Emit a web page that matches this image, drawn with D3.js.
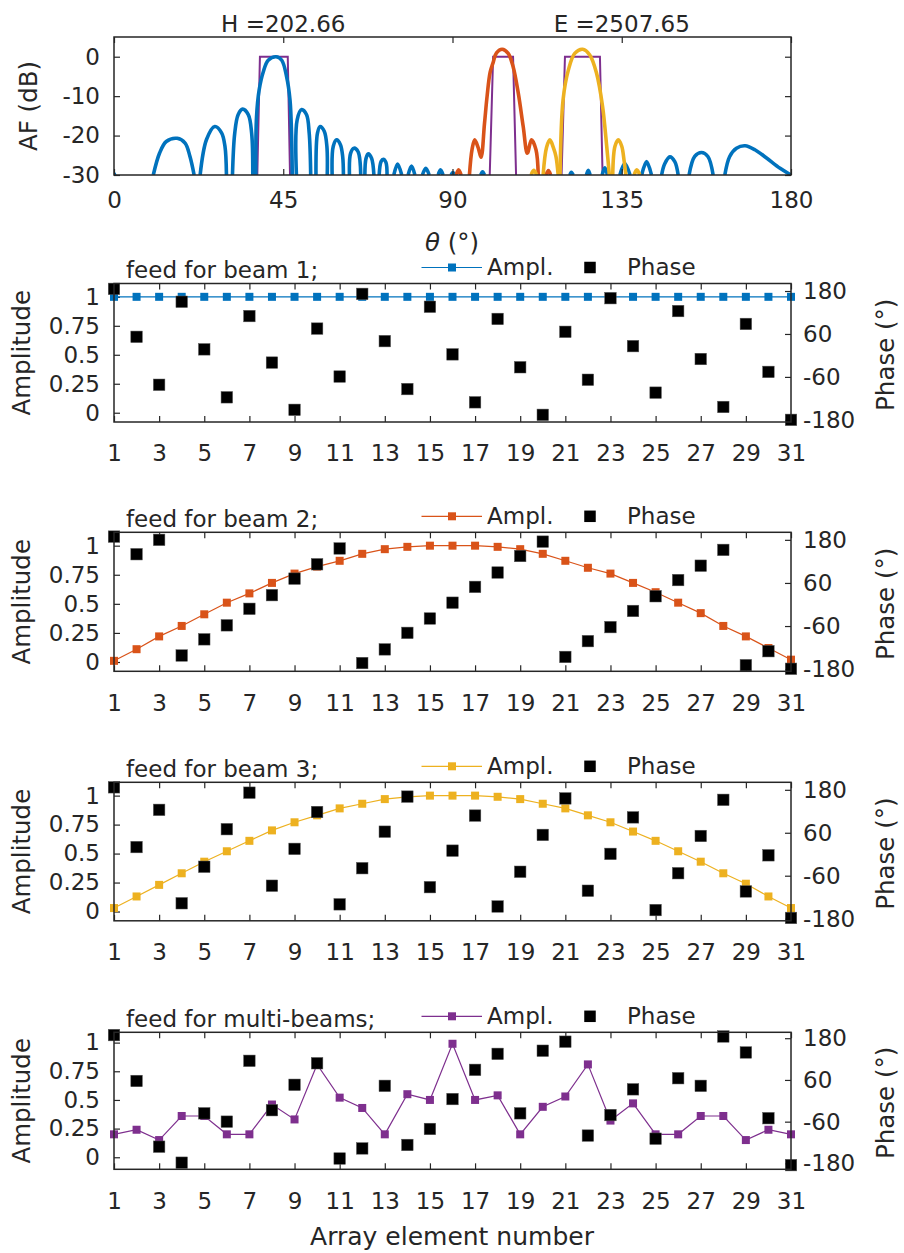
<!DOCTYPE html>
<html><head><meta charset="utf-8">
<script src="https://cdn.jsdelivr.net/npm/d3@7"></script>
<style>
body{margin:0;background:#fff;}
text{font-family:"DejaVu Sans",sans-serif;fill:#262626;}
</style>
</head><body>
<svg id="c" width="904" height="1253"></svg>
<script>
// ---------------- DATA ----------------
const thetaTicks = [0, 45, 90, 135, 180];
const afTicks = [-30, -20, -10, 0];
const titleH = "H =202.66";
const titleE = "E =2507.65";

// Array factor lobes, [theta(deg), AF(dB)]
const beam1Lobes = [
  [[0,-29.5],[0.5,-31]],
  [[10.45,-30],[12.1,-24.5],[13.9,-21.5],[16.8,-20.7],[18.9,-21.9],[20.2,-25.3],[21.3,-30]],
  [[22.9,-30],[24.6,-21],[26.8,-17.7],[28.6,-19.3],[29.5,-22.7],[29.9,-30]],
  [[31.5,-30],[32.1,-19.4],[33.0,-14.7],[34.2,-13.3],[35.7,-14.7],[36.6,-19.4],[36.9,-30]],
  [[37.7,-30],[37.9,-15.2],[38.6,-8.4],[39.7,-3.8],[41.0,-0.9],[43.1,0],[44.6,-0.9],[45.9,-5.1],[46.8,-11],[47.2,-19.4],[47.4,-30]],
  [[48.5,-30],[48.7,-16],[49.9,-13.4],[51.2,-14.7],[51.9,-19.4],[52.3,-30]],
  [[53.7,-30],[54.1,-19.4],[54.8,-17.7],[55.9,-18.9],[56.6,-22.7],[56.7,-30]],
  [[58.0,-30],[58.3,-22.7],[59.2,-21.1],[60.2,-22.3],[60.8,-25.3],[61.0,-30]],
  [[62.6,-30],[62.9,-24.5],[63.8,-23.2],[64.9,-24.1],[65.6,-30]],
  [[66.7,-30],[67.0,-25.8],[67.6,-24.6],[68.5,-25.8],[69.1,-30]],
  [[70.5,-30],[71.0,-26.6],[71.6,-26],[72.3,-26.8],[72.6,-30]],
  [[74.4,-30],[75.4,-27.2],[76.5,-30]],
  [[78.2,-30],[79.1,-27.7],[80.0,-30]],
  [[82.0,-30],[82.9,-28.3],[83.8,-30]],
  [[86.2,-30],[86.8,-28.7],[87.5,-30]],
  [[89.6,-30],[90.1,-29.4],[90.6,-30]],
  [[97.5,-30],[98.0,-29.2],[98.5,-30]],
  [[121.2,-30],[121.6,-29.3],[122.1,-30]],
  [[125.6,-30],[126.1,-28.8],[126.6,-30]],
  [[129.8,-30],[130.5,-28.2],[131.2,-30]],
  [[134.5,-30],[135.8,-27.1],[137.2,-30]],
  [[140.3,-30],[141.6,-26.6],[142.9,-30]],
  [[145.6,-30],[146.4,-27.2],[147.8,-25.4],[149.1,-26.6],[150.0,-30]],
  [[152.9,-30],[154.4,-25.3],[156.2,-24.3],[157.9,-25.3],[159.3,-30]],
  [[162.4,-30],[163.7,-25.3],[165.5,-23.2],[167.8,-22.6],[170.4,-23.6],[173.5,-25.7],[177.1,-28.3],[180,-30]]
];
const beam2Lobes = [
  [[91.0,-30],[91.6,-28.7],[92.3,-30]],
  [[94.5,-30],[95.2,-23.5],[95.9,-21.1],[96.8,-23],[97.6,-25.5],[98.5,-17],[99.2,-10],[100.0,-4],[100.8,-1.5],[101.7,1.0],[103.2,1.9],[104.8,0.85],[106.1,-2.5],[107.5,-9.3],[108.8,-17.7],[109.9,-24.5],[111.0,-21.1],[112.2,-23.6],[112.8,-30]],
  [[114.9,-30],[115.5,-28.9],[116.1,-30]]
];
const beam3Lobes = [
  [[110.9,-30],[111.6,-28.8],[112.4,-30]],
  [[114.1,-30],[115.0,-23],[115.9,-21.1],[116.8,-23],[117.5,-25.3],[118.1,-30]],
  [[118.6,-30],[119.4,-10.9],[120.8,-3.4],[122.5,0.85],[124.6,1.9],[126.5,0.45],[128.3,-4.2],[129.9,-12.6],[131.0,-22.7],[131.7,-30]],
  [[132.6,-30],[133.2,-22.7],[134.1,-21.1],[135.0,-22.7],[135.6,-26.2],[136.1,-30]],
  [[138.3,-30],[139.0,-28.7],[139.8,-30]]
];
// desired-pattern masks
const masks = [
  [[38.1,-30],[38.8,0],[46.2,0],[46.8,-30]],
  [[99.9,-30],[100.8,0],[106.1,0],[106.9,-30]],
  [[119.0,-30],[119.9,0],[129.2,0],[129.9,-30]]
];

const elementNumbers = [1,2,3,4,5,6,7,8,9,10,11,12,13,14,15,16,17,18,19,20,21,22,23,24,25,26,27,28,29,30,31];
const elementTicks = [1,3,5,7,9,11,13,15,17,19,21,23,25,27,29,31];
const ampTicks = [0, 0.25, 0.5, 0.75, 1];
const phaseTicks = [-180, -60, 60, 180];

const panelTitles = ["feed for beam 1;", "feed for beam 2;", "feed for beam 3;", "feed for multi-beams;"];

const ampBeam1 = [1,1,1,1,1,1,1,1,1,1,1,1,1,1,1,1,1,1,1,1,1,1,1,1,1,1,1,1,1,1,1];
const phaseBeam1 = [186,52,-82,150,17,-117,110,-20,-152,75,-59,172,40,-94,136,3,-131,102,-33,-166,66,-68,160,26,-104,124,-10,-144,88,-46,-180];

const ampBeam2 = [0.01,0.11,0.22,0.31,0.41,0.51,0.59,0.68,0.76,0.82,0.87,0.93,0.97,0.99,1.0,1.0,1.0,0.99,0.97,0.93,0.87,0.81,0.76,0.68,0.6,0.51,0.42,0.31,0.22,0.12,0.02];
const phaseBeam2 = [189,140,180,-142,-97,-58,-12,26,72,112,156,-163,-125,-79,-39,5,49,89,135,175,-146,-102,-63,-18,23,68,108,152,-169,-130,-179];

const ampBeam3 = [0.03,0.13,0.23,0.33,0.43,0.52,0.61,0.70,0.77,0.83,0.89,0.93,0.97,0.99,1.0,1.0,1.0,0.99,0.97,0.93,0.89,0.83,0.77,0.69,0.61,0.52,0.43,0.33,0.24,0.13,0.03];
const phaseBeam3 = [187,20,124,-137,-35,70,172,-88,15,118,-140,-39,63,161,-92,10,108,-146,-49,54,156,-102,1,103,-156,-53,51,152,-104,-3,-178];

const ampMulti = [0.2,0.24,0.15,0.36,0.36,0.2,0.2,0.46,0.33,0.81,0.52,0.43,0.2,0.55,0.5,0.99,0.5,0.54,0.2,0.44,0.53,0.81,0.32,0.47,0.2,0.2,0.36,0.36,0.15,0.24,0.2];
const phaseMulti = [189,57,-132,-178,-36,-60,115,-27,46,108,-166,-137,43,-127,-81,5,89,135,-36,144,170,-100,-41,33,-109,65,43,185,139,-50,-185];

// ---------------- STYLE / LAYOUT ----------------
const ink = "#262626";
const colBlue = "#0072BD", colOrange = "#D95319", colYellow = "#EDB120", colPurple = "#7E2F8E";
const TICKFS = 23, LABELFS = 24.5;
const X0 = 114, X1 = 791;

const svg = d3.select("#c");

function styleAxis(g, showText) {
  g.select(".domain").remove();
  g.selectAll(".tick line").attr("stroke", ink).attr("stroke-width", 1.2);
  if (showText) g.selectAll(".tick text").attr("fill", ink).style("font-size", TICKFS + "px").style("font-family", '"DejaVu Sans",sans-serif');
  else g.selectAll(".tick text").remove();
}
const fmt = d => String(d);

// ---------------- TOP: ARRAY FACTOR ----------------
{
  const top = 37, bottom = 175;
  const x = d3.scaleLinear().domain([0, 180]).range([X0, X1]);
  const y = d3.scaleLinear().domain([-30, 5]).range([bottom, top]);
  const g = svg.append("g");
  g.append("clipPath").attr("id", "clipAF").append("rect")
    .attr("x", X0).attr("y", top).attr("width", X1 - X0).attr("height", bottom - top);
  const line = d3.line().x(d => x(d[0])).y(d => y(d[1]));
  const smooth = d3.line().x(d => x(d[0])).y(d => y(d[1])).curve(d3.curveCatmullRom.alpha(0.5));
  const plot = g.append("g").attr("clip-path", "url(#clipAF)");
  plot.selectAll("path.mask").data(masks).join("path").attr("class", "mask")
    .attr("d", line).attr("fill", "none").attr("stroke", colPurple).attr("stroke-width", 2);
  [[beam1Lobes, colBlue], [beam2Lobes, colOrange], [beam3Lobes, colYellow]].forEach(([lobes, c]) => {
    plot.append("g").selectAll("path").data(lobes).join("path")
      .attr("d", smooth).attr("fill", "none").attr("stroke", c).attr("stroke-width", 3.6)
      .attr("stroke-linejoin", "round");
  });
  styleAxis(g.append("g").attr("transform", `translate(0,${bottom})`)
    .call(d3.axisBottom(x).tickValues(thetaTicks).tickSize(-6).tickPadding(17).tickFormat(fmt)), true);
  styleAxis(g.append("g").attr("transform", `translate(0,${top})`)
    .call(d3.axisTop(x).tickValues(thetaTicks).tickSize(-6)), false);
  styleAxis(g.append("g").attr("transform", `translate(${X0},0)`)
    .call(d3.axisLeft(y).tickValues(afTicks).tickSize(-6).tickPadding(14).tickFormat(fmt)), true);
  styleAxis(g.append("g").attr("transform", `translate(${X1},0)`)
    .call(d3.axisRight(y).tickValues(afTicks).tickSize(-6)), false);
  g.append("rect").attr("x", X0).attr("y", top).attr("width", X1 - X0).attr("height", bottom - top)
    .attr("fill", "none").attr("stroke", ink).attr("stroke-width", 1.5);
  g.append("text").attr("x", x(45)).attr("y", 31.5).attr("text-anchor", "middle")
    .style("font-size", "23px").text(titleH);
  g.append("text").attr("x", x(135)).attr("y", 31.5).attr("text-anchor", "middle")
    .style("font-size", "23px").text(titleE);
  g.append("text").attr("transform", `translate(37,${(top + bottom) / 2}) rotate(-90)`)
    .attr("text-anchor", "middle").style("font-size", LABELFS + "px").text("AF (dB)");
  const tl = g.append("text").attr("x", 452).attr("y", 251).attr("text-anchor", "middle").style("font-size", LABELFS + "px");
  tl.append("tspan").style("font-style", "italic").text("θ");
  tl.append("tspan").text(" (°)");
}

// ---------------- PANELS ----------------
const panelAmp = [ampBeam1, ampBeam2, ampBeam3, ampMulti];
const panelPhase = [phaseBeam1, phaseBeam2, phaseBeam3, phaseMulti];
const panelColors = [colBlue, colOrange, colYellow, colPurple];
const panelTops = [283.5, 532.3, 782.3, 1032.3];
const panelHeights = [138.5, 139, 138.5, 137];
const ampDomains = [[-0.08, 1.115], [-0.08, 1.115], [-0.08, 1.115], [-0.105, 1.09]];
const phaseDomains = [[-186, 201], [-186, 201], [-186, 201], [-197, 197]];

const px = d3.scaleLinear().domain([1, 31]).range([X0, X1]);

panelAmp.forEach((amp, i) => {
  const top = panelTops[i], bottom = top + panelHeights[i];
  const yA = d3.scaleLinear().domain(ampDomains[i]).range([bottom, top]);
  const yP = d3.scaleLinear().domain(phaseDomains[i]).range([bottom, top]);
  const g = svg.append("g");
  const col = panelColors[i];
  const rows = elementNumbers.map((n, k) => ({ n, a: amp[k], p: panelPhase[i][k] }));

  // axes
  styleAxis(g.append("g").attr("transform", `translate(0,${bottom})`)
    .call(d3.axisBottom(px).tickValues(elementTicks).tickSize(-6).tickPadding(23).tickFormat(fmt)), true);
  styleAxis(g.append("g").attr("transform", `translate(0,${top})`)
    .call(d3.axisTop(px).tickValues(elementTicks).tickSize(-6)), false);
  styleAxis(g.append("g").attr("transform", `translate(${X0},0)`)
    .call(d3.axisLeft(yA).tickValues(ampTicks).tickSize(-6).tickPadding(14).tickFormat(fmt)), true);
  styleAxis(g.append("g").attr("transform", `translate(${X1},0)`)
    .call(d3.axisRight(yP).tickValues(phaseTicks).tickSize(-6).tickPadding(12).tickFormat(fmt)), true);

  // amplitude line + markers
  g.append("path").datum(rows)
    .attr("d", d3.line().x(d => px(d.n)).y(d => yA(d.a)))
    .attr("fill", "none").attr("stroke", col).attr("stroke-width", 1.2);
  g.append("g").selectAll("rect").data(rows).join("rect")
    .attr("x", d => px(d.n) - 4).attr("y", d => yA(d.a) - 4)
    .attr("width", 8).attr("height", 8).attr("fill", col);
  // phase markers
  g.append("g").selectAll("rect").data(rows).join("rect")
    .attr("x", d => px(d.n) - 5.75).attr("y", d => yP(d.p) - 5.75)
    .attr("width", 11.5).attr("height", 11.5).attr("fill", "#000")
    .attr("stroke", "#555").attr("stroke-width", 0.5);

  // box
  g.append("rect").attr("x", X0).attr("y", top).attr("width", X1 - X0).attr("height", bottom - top)
    .attr("fill", "none").attr("stroke", ink).attr("stroke-width", 1.5);

  // labels
  g.append("text").attr("transform", `translate(30,${(top + bottom) / 2}) rotate(-90)`)
    .attr("text-anchor", "middle").style("font-size", LABELFS + "px").text("Amplitude");
  g.append("text").attr("transform", `translate(894,${(top + bottom) / 2 + 2}) rotate(-90)`)
    .attr("text-anchor", "middle").style("font-size", LABELFS + "px").text("Phase (°)");

  // title + legend
  g.append("text").attr("x", 126).attr("y", top - 5.5).style("font-size", "23px").text(panelTitles[i]);
  const ly = top - 16;
  g.append("line").attr("x1", 421.5).attr("x2", 482).attr("y1", ly).attr("y2", ly)
    .attr("stroke", col).attr("stroke-width", 1.2);
  g.append("rect").attr("x", 452 - 4).attr("y", ly - 4).attr("width", 8).attr("height", 8).attr("fill", col);
  g.append("text").attr("x", 487).attr("y", top - 8.5).style("font-size", "23px").text("Ampl.");
  g.append("rect").attr("x", 590 - 5.75).attr("y", ly - 5.75).attr("width", 11.5).attr("height", 11.5).attr("fill", "#000");
  g.append("text").attr("x", 627).attr("y", top - 8.5).style("font-size", "23px").text("Phase");
});

svg.append("text").attr("x", 452).attr("y", 1245).attr("text-anchor", "middle")
  .style("font-size", "25px").text("Array element number");
</script>
</body></html>
